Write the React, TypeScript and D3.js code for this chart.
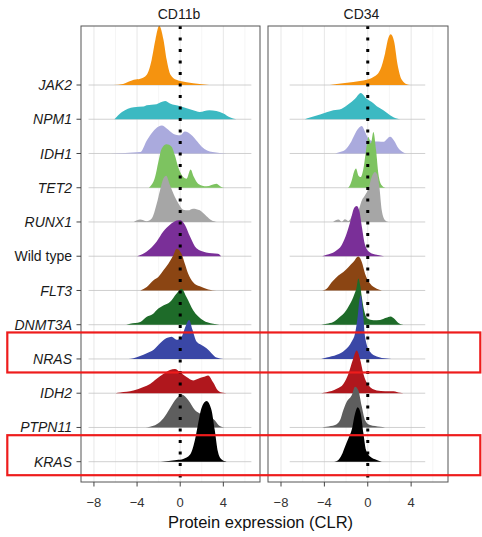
import React, { useEffect, useRef } from 'react';
import * as d3 from 'd3';

type Pt = [number, number];

const genes = ['JAK2', 'NPM1', 'IDH1', 'TET2', 'RUNX1', 'Wild type', 'FLT3', 'DNMT3A', 'NRAS', 'IDH2', 'PTPN11', 'KRAS'];
const geneColors = ['#f5930f', '#3cb9c2', '#aaaadd', '#7dc360', '#a6a6a6', '#7a2f98', '#8b4513', '#1e6b29', '#3a47a6', '#b0171d', '#5e5e5e', '#000000'];
const panelTitles = ['CD11b', 'CD34'];
const highlighted = ['NRAS', 'KRAS'];
const xTicks = [-8, -4, 0, 4];
const gridValues = [-8, -6, -4, -2, 0, 2, 4, 6];
const lineRanges: Pt[] = [[-8.5, 6.6], [-7.2, 5.3]];

// density curves, [CLR value, density] per gene
const cd11bDensity: Pt[][] = [
  [[-6.2, 0], [-5.3, 0.03], [-4.3, 0.15], [-3.7, 0.18], [-3.1, 0.3], [-2.65, 0.73], [-2.3, 1.32], [-1.95, 1.73], [-1.55, 1.32], [-1.25, 0.73], [-0.9, 0.3], [-0.35, 0.15], [0.6, 0.08], [1.8, 0.03], [2.7, 0]],
  [[-6.1, 0], [-5.4, 0.21], [-4.3, 0.35], [-3.4, 0.37], [-3.1, 0.41], [-2.2, 0.44], [-1.4, 0.53], [-0.95, 0.46], [0, 0.38], [1.2, 0.26], [1.8, 0.21], [2.7, 0.26], [4.0, 0.17], [4.6, 0.06], [5.2, 0]],
  [[-6.5, 0], [-3.7, 0.04], [-3.1, 0.38], [-2.5, 0.65], [-2.0, 0.79], [-1.7, 0.82], [-1.25, 0.73], [-0.65, 0.58], [0, 0.53], [0.43, 0.64], [0.74, 0.61], [1.5, 0.38], [2.0, 0.2], [3.0, 0.04], [4.3, 0]],
  [[-2.9, 0], [-2.33, 0.31], [-2.03, 0.75], [-1.72, 1.14], [-1.26, 1.27], [-0.8, 1.2], [-0.49, 0.94], [-0.18, 0.6], [0.28, 0.31], [0.59, 0.26], [0.96, 0.53], [1.27, 0.31], [1.66, 0.12], [2.44, 0.04], [3.36, 0.12], [3.82, 0.02], [4.1, 0]],
  [[-4.3, 0], [-3.72, 0.07], [-3.1, 0.02], [-2.64, 0.1], [-2.18, 0.53], [-1.87, 0.93], [-1.57, 1.26], [-1.3, 1.35], [-0.95, 1.07], [-0.7, 0.88], [-0.49, 0.73], [-0.18, 0.55], [0.28, 0.36], [0.74, 0.34], [1.2, 0.39], [1.82, 0.34], [2.44, 0.17], [2.9, 0.05], [3.4, 0]],
  [[-4.0, 0], [-3.1, 0.14], [-2.18, 0.43], [-1.57, 0.72], [-0.95, 0.92], [-0.33, 1.04], [0, 1.06], [0.43, 0.92], [0.9, 0.58], [1.51, 0.23], [2.4, 0.11], [3.5, 0.07], [3.8, 0]],
  [[-3.7, 0], [-3.1, 0.1], [-2.5, 0.29], [-2.03, 0.39], [-1.57, 0.58], [-1.1, 0.78], [-0.65, 1.02], [-0.33, 1.22], [0.12, 1.07], [0.43, 0.78], [0.74, 0.49], [1.2, 0.24], [1.82, 0.12], [2.6, 0.03], [3.35, 0]],
  [[-5.0, 0], [-4.65, 0.03], [-3.7, 0.08], [-3.1, 0.23], [-2.5, 0.32], [-2.03, 0.47], [-1.57, 0.56], [-0.95, 0.66], [-0.33, 0.91], [0.12, 1.05], [0.58, 0.81], [1.2, 0.42], [2.12, 0.13], [3.05, 0.03], [3.65, 0]],
  [[-4.8, 0], [-4.34, 0.02], [-3.72, 0.09], [-3.1, 0.17], [-2.49, 0.26], [-1.87, 0.46], [-1.26, 0.61], [-0.8, 0.65], [-0.33, 0.56], [0.13, 0.65], [0.43, 0.9], [0.83, 1.14], [1.14, 0.85], [1.51, 0.51], [1.97, 0.41], [2.44, 0.31], [2.9, 0.17], [3.36, 0.04], [4.0, 0]],
  [[-6.0, 0], [-5.57, 0.02], [-4.34, 0.08], [-3.41, 0.18], [-2.8, 0.27], [-2.18, 0.42], [-1.57, 0.56], [-0.95, 0.68], [-0.49, 0.71], [0, 0.61], [0.59, 0.47], [1.2, 0.37], [1.66, 0.42], [2.12, 0.47], [2.59, 0.52], [3.05, 0.32], [3.5, 0.08], [3.97, 0.01], [4.3, 0]],
  [[-3.2, 0], [-2.8, 0.02], [-2.18, 0.09], [-1.57, 0.26], [-0.95, 0.56], [-0.33, 0.85], [0.13, 0.96], [0.74, 0.8], [1.36, 0.51], [1.82, 0.41], [2.4, 0.36], [3.2, 0.21], [3.66, 0.04], [4.1, 0]],
  [[-1.8, 0], [-0.33, 0.05], [0.28, 0.08], [0.9, 0.2], [1.36, 0.63], [1.66, 1.11], [1.97, 1.56], [2.44, 1.77], [2.9, 1.51], [3.2, 0.93], [3.5, 0.29], [3.82, 0.07], [4.3, 0]],
];

const cd34Density: Pt[][] = [
  [[-3.5, 0], [-2.86, 0.03], [-1.33, 0.09], [-0.1, 0.15], [0.52, 0.23], [1.14, 0.44], [1.6, 0.93], [1.9, 1.37], [2.12, 1.48], [2.43, 1.27], [2.73, 0.63], [3.14, 0.15], [3.6, 0.02], [3.9, 0]],
  [[-5.8, 0], [-5.33, 0.05], [-4.4, 0.14], [-3.18, 0.26], [-2.4, 0.31], [-1.79, 0.44], [-1.17, 0.6], [-0.65, 0.77], [-0.1, 0.6], [0.37, 0.5], [0.83, 0.38], [1.44, 0.26], [2.06, 0.12], [2.68, 0.02], [3.0, 0]],
  [[-3.0, 0], [-2.71, 0.03], [-2.1, 0.1], [-1.63, 0.29], [-1.17, 0.58], [-0.87, 0.73], [-0.55, 0.8], [-0.25, 0.63], [0.06, 0.44], [0.5, 0.36], [1.0, 0.35], [1.44, 0.34], [2.06, 0.49], [2.4, 0.39], [2.83, 0.15], [3.3, 0.03], [3.6, 0]],
  [[-1.9, 0], [-1.79, 0.01], [-1.48, 0.21], [-1.27, 0.46], [-1.08, 0.56], [-0.87, 0.36], [-0.65, 0.31], [-0.4, 0.56], [-0.16, 1.09], [0.06, 1.48], [0.28, 1.29], [0.52, 1.63], [0.77, 1.09], [0.98, 0.41], [1.29, 0.07], [1.6, 0]],
  [[-3.2, 0], [-2.71, 0.07], [-2.4, 0.01], [-2.1, 0.08], [-1.79, 0.03], [-1.33, 0.24], [-0.87, 0.34], [-0.55, 0.63], [-0.25, 0.78], [0.06, 0.97], [0.37, 1.32], [0.67, 1.46], [0.85, 1.4], [1.07, 1.02], [1.29, 0.34], [1.6, 0.05], [1.9, 0]],
  [[-4.2, 0], [-3.79, 0.04], [-3.02, 0.14], [-2.4, 0.33], [-1.94, 0.67], [-1.57, 1.06], [-1.27, 1.4], [-1.02, 1.47], [-0.77, 1.31], [-0.55, 0.87], [-0.25, 0.33], [0.21, 0.11], [0.83, 0.04], [1.5, 0]],
  [[-4.2, 0], [-3.79, 0.05], [-3.33, 0.24], [-2.71, 0.44], [-2.25, 0.54], [-1.79, 0.68], [-1.33, 0.83], [-0.87, 0.99], [-0.55, 0.83], [-0.25, 0.49], [0.21, 0.2], [0.83, 0.05], [1.3, 0]],
  [[-4.3, 0], [-3.79, 0.03], [-3.18, 0.08], [-2.56, 0.23], [-2.1, 0.37], [-1.63, 0.61], [-1.27, 0.86], [-1.02, 1.1], [-0.87, 1.35], [-0.7, 1.15], [-0.55, 0.81], [-0.34, 0.42], [-0.03, 0.18], [0.52, 0.13], [1.14, 0.14], [1.7, 0.2], [2.1, 0.24], [2.5, 0.16], [2.83, 0.05], [3.3, 0]],
  [[-4.3, 0], [-3.79, 0.04], [-2.86, 0.12], [-2.1, 0.26], [-1.48, 0.51], [-1.17, 0.75], [-0.93, 1.24], [-0.77, 1.73], [-0.65, 1.85], [-0.46, 1.43], [-0.25, 0.65], [0.21, 0.21], [0.83, 0.07], [1.76, 0.01], [2.2, 0]],
  [[-4.3, 0], [-3.79, 0.03], [-2.86, 0.13], [-2.25, 0.27], [-1.79, 0.56], [-1.39, 0.96], [-1.02, 1.25], [-0.71, 1.0], [-0.4, 0.56], [0.06, 0.23], [0.83, 0.08], [1.6, 0.06], [2.37, 0.06], [2.99, 0.01], [3.3, 0]],
  [[-4.2, 0], [-3.79, 0.02], [-3.02, 0.07], [-2.56, 0.21], [-2.25, 0.51], [-1.94, 0.75], [-1.48, 0.94], [-1.17, 1.19], [-0.87, 1.09], [-0.55, 0.61], [-0.25, 0.21], [0.21, 0.07], [1.14, 0.02], [1.6, 0]],
  [[-3.1, 0], [-2.71, 0.05], [-2.4, 0.2], [-2.1, 0.44], [-1.79, 0.68], [-1.48, 0.93], [-1.17, 1.41], [-0.93, 1.59], [-0.65, 1.41], [-0.4, 0.83], [-0.16, 0.34], [0.21, 0.15], [0.83, 0.05], [1.3, 0]],
];

const panelDensities = [cd11bDensity, cd34Density];

const RidgePlot: React.FC = () => {
  const chartRef = useRef<SVGSVGElement | null>(null);

  useEffect(() => {
    const width = 482;
    const height = 537;
    const top = 26;
    const bottom = 482;
    const panelX: [number, number][] = [[81, 260], [268, 448]];
    const titleX = [179, 361.5];
    const font = "'Liberation Sans', Arial, Helvetica, sans-serif";

    const svg = d3.select(chartRef.current);
    svg.selectAll('*').remove();
    svg.attr('width', width).attr('height', height).attr('viewBox', `0 0 ${width} ${height}`);

    const y = d3.scalePoint<string>().domain(genes).range([85, 461.7]);
    const step = y.step();
    const h = d3.scaleLinear().domain([0, 1]).range([0, step]);

    panelTitles.forEach((title, p) => {
      const x = d3.scaleLinear().domain([-9.2, 7.4]).range(panelX[p]);
      const g = svg.append('g');

      // grid
      g.selectAll('line.grid')
        .data(gridValues)
        .enter().append('line')
        .attr('x1', d => x(d)).attr('x2', d => x(d))
        .attr('y1', top).attr('y2', bottom)
        .attr('stroke', d => (d % 4 === 0 ? '#e4e4e4' : '#f1f1f1'))
        .attr('stroke-width', d => (d % 4 === 0 ? 0.9 : 0.7));

      const area = d3.area<Pt>()
        .x(d => x(d[0]))
        .y1(d => -h(d[1]))
        .y0(0)
        .curve(d3.curveMonotoneX);

      genes.forEach((gene, i) => {
        const row = g.append('g').attr('transform', `translate(0,${y(gene)})`);
        row.append('line')
          .attr('x1', x(lineRanges[p][0])).attr('x2', x(lineRanges[p][1]))
          .attr('y1', 0).attr('y2', 0)
          .attr('stroke', '#c4c4c4')
          .attr('stroke-width', 0.8);
        row.append('path')
          .datum(panelDensities[p][i])
          .attr('d', area)
          .attr('fill', geneColors[i]);
      });

      // zero line
      g.append('line')
        .attr('x1', x(0)).attr('x2', x(0))
        .attr('y1', top).attr('y2', bottom + 3)
        .attr('stroke', '#000')
        .attr('stroke-width', 3)
        .attr('stroke-dasharray', '3,8.5');

      // panel border
      g.append('rect')
        .attr('x', panelX[p][0]).attr('y', top)
        .attr('width', panelX[p][1] - panelX[p][0])
        .attr('height', bottom - top)
        .attr('fill', 'none')
        .attr('stroke', '#555')
        .attr('stroke-width', 1);

      g.append('text')
        .attr('x', titleX[p]).attr('y', 18.5)
        .attr('text-anchor', 'middle')
        .attr('font-family', font)
        .attr('font-size', 14)
        .attr('fill', '#1a1a1a')
        .text(title);

      // x axis
      g.selectAll('line.xtick')
        .data(xTicks)
        .enter().append('line')
        .attr('x1', d => x(d)).attr('x2', d => x(d))
        .attr('y1', bottom).attr('y2', bottom + 4.5)
        .attr('stroke', '#444')
        .attr('stroke-width', 1);
      g.selectAll('text.xtick')
        .data(xTicks)
        .enter().append('text')
        .attr('x', d => x(d)).attr('y', 507)
        .attr('text-anchor', 'middle')
        .attr('font-family', font)
        .attr('font-size', 13)
        .attr('fill', '#333')
        .text(d => (d < 0 ? `\u2212${Math.abs(d)}` : `${d}`));
    });

    // y axis
    const yAxis = svg.append('g');
    genes.forEach(gene => {
      yAxis.append('line')
        .attr('x1', 76.5).attr('x2', 81)
        .attr('y1', y(gene)!).attr('y2', y(gene)!)
        .attr('stroke', '#444')
        .attr('stroke-width', 1);
      yAxis.append('text')
        .attr('x', 72).attr('y', y(gene)!)
        .attr('dy', '0.36em')
        .attr('text-anchor', 'end')
        .attr('font-family', font)
        .attr('font-size', 14)
        .attr('font-style', gene === 'Wild type' ? 'normal' : 'italic')
        .attr('fill', '#1a1a1a')
        .text(gene);
    });

    svg.append('text')
      .attr('x', 260.5).attr('y', 528)
      .attr('text-anchor', 'middle')
      .attr('font-family', font)
      .attr('font-size', 16.5)
      .attr('fill', '#111')
      .text('Protein expression (CLR)');

    // highlight boxes
    svg.selectAll('rect.hl')
      .data(highlighted)
      .enter().append('rect')
      .attr('x', 7.3)
      .attr('y', d => y(d)! - 26.5)
      .attr('width', 473)
      .attr('height', 40)
      .attr('fill', 'none')
      .attr('stroke', '#ee1c1c')
      .attr('stroke-width', 2.2);
  }, []);

  return (
    <div style={{ position: 'absolute', left: 0, top: 0 }}>
      <svg ref={chartRef} style={{ display: 'block' }}></svg>
    </div>
  );
};

export default function App() {
  return <RidgePlot />;
}
